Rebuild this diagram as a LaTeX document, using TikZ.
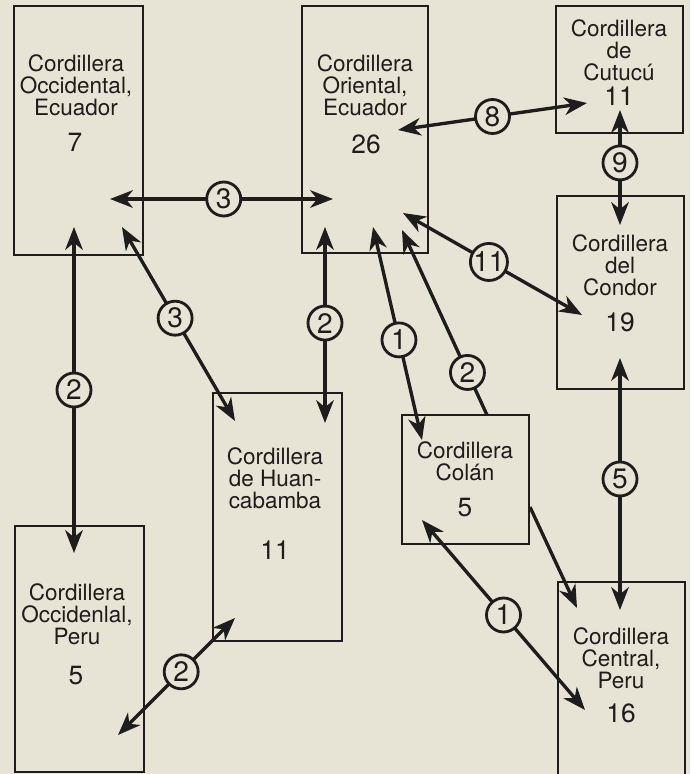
\documentclass[tikz,border=0pt]{standalone}
\usepackage{fontspec}
\setmainfont{TeX Gyre Heros}
\usetikzlibrary{arrows.meta}
\definecolor{paper}{RGB}{232,228,213}
\definecolor{ink}{RGB}{30,28,28}

\begin{document}
\begin{tikzpicture}[x=0.02cm,y=-0.02cm,
  >={Stealth[length=13pt,width=10pt,inset=4pt]},
  rangebox/.style={draw=ink,line width=1.2pt,rectangle,inner sep=0pt},
  rangetext/.style={align=center,text=ink,font=\fontsize{12.8}{12.6}\selectfont},
  rangenum/.style={text=ink,font=\fontsize{15}{17}\selectfont},
  flow/.style={draw=ink,line width=1.9pt},
  tag/.style={circle,draw=ink,fill=paper,line width=1.6pt,minimum size=0.68cm,inner sep=0pt,text=ink,font=\fontsize{16}{18}\selectfont}]
  \fill[paper] (0,0) rectangle (690,774);
  \useasboundingbox (0,0) rectangle (690,774);

  \node[rangebox,minimum width=2.58cm,minimum height=4.98cm] (occE) at (78.5,130.5) {};
  \node[rangebox,minimum width=2.52cm,minimum height=4.94cm] (oriE) at (365,129.5) {};
  \node[rangebox,minimum width=2.54cm,minimum height=2.54cm] (cutu) at (619.5,69.5) {};
  \node[rangebox,minimum width=2.54cm,minimum height=3.86cm] (cond) at (620.5,292.5) {};
  \node[rangebox,minimum width=2.58cm,minimum height=4.96cm] (huan) at (277.5,517) {};
  \node[rangebox,minimum width=2.58cm,minimum height=4.92cm] (occP) at (79.5,649) {};
  \node[rangebox,minimum width=2.54cm,minimum height=2.58cm] (colan) at (465.5,479.5) {};
  \node[rangebox,minimum width=2.54cm,minimum height=4.16cm] (cent) at (621.5,686) {};

  \node[rangetext] (occE-t) at (76,85) {Cordillera\\Occidental,\\Ecuador};
  \node[rangenum] (occE-n) at (75,142.5) {7};
  \node[rangetext] (oriE-t) at (365,85) {Cordillera\\Oriental,\\Ecuador};
  \node[rangenum] (oriE-n) at (366,144) {26};
  \node[rangetext] (cutu-t) at (619,50) {Cordillera\\de\\Cutucú};
  \node[rangenum] (cutu-n) at (619,96) {11};
  \node[rangetext] (cond-t) at (620,265) {Cordillera\\del\\Condor};
  \node[rangenum] (cond-n) at (620,322) {19};
  \node[rangetext] (huan-t) at (275,478) {Cordillera\\de Huan-\\cabamba};
  \node[rangenum] (huan-n) at (275,550) {11};
  \node[rangetext] (occP-t) at (77,614) {Cordillera\\Occidenlal,\\Peru};
  \node[rangenum] (occP-n) at (76,676) {5};
  \node[rangetext] (colan-t) at (465,461) {Cordillera\\Colán};
  \node[rangenum] (colan-n) at (465,508) {5};
  \node[rangetext] (cent-t) at (621,658) {Cordillera\\Central,\\Peru};
  \node[rangenum] (cent-n) at (621,713) {16};

  \coordinate (occE-oriE) at (110,199);
  \coordinate (oriE-occE) at (333,199);
  \coordinate (occE-occP) at (74,227);
  \coordinate (occP-occE) at (74,553);
  \coordinate (occE-huan) at (122,227);
  \coordinate (huan-occE) at (235,421);
  \coordinate (oriE-huan) at (325,227);
  \coordinate (huan-oriE) at (325,423);
  \coordinate (oriE-cutu) at (398,130);
  \coordinate (cutu-oriE) at (587,103);
  \coordinate (cutu-cond) at (620,110);
  \coordinate (cond-cutu) at (620,225);
  \coordinate (oriE-cond) at (403,213);
  \coordinate (cond-oriE) at (582,315);
  \coordinate (oriE-colan) at (373,227);
  \coordinate (colan-oriE) at (422,440);
  \coordinate (colan-top) at (487,415);
  \coordinate (oriE-back) at (402,230);
  \coordinate (colan-side) at (530,507);
  \coordinate (cent-colan) at (577,608);
  \coordinate (cond-cent) at (620,358);
  \coordinate (cent-cond) at (620,610);
  \coordinate (colan-cent) at (422,520);
  \coordinate (cent-low) at (585,710);
  \coordinate (huan-occP) at (235,618);
  \coordinate (occP-huan) at (118,735);

  \draw[flow,<->] (occE-oriE) -- node[tag,pos=.51] {3} (oriE-occE);
  \draw[flow,<->] (occE-occP) -- node[tag] {2} (occP-occE);
  \draw[flow,<->] (occE-huan) -- node[tag,pos=.47] {3} (huan-occE);
  \draw[flow,<->] (oriE-huan) -- node[tag,pos=.49] {2} (huan-oriE);
  \draw[flow,<->] (oriE-cutu) -- node[tag] {8} (cutu-oriE);
  \draw[flow,<->] (cutu-cond) -- node[tag,pos=.46] {9} (cond-cutu);
  \draw[flow,<->] (oriE-cond) -- node[tag,pos=.48] {11} (cond-oriE);
  \draw[flow,<->] (oriE-colan) -- node[tag,pos=.53] {1} (colan-oriE);
  \draw[flow,->] (colan-top) -- node[tag,pos=.23] {2} (oriE-back);
  \draw[flow,->] (colan-side) -- (cent-colan);
  \draw[flow,<->] (cond-cent) -- node[tag,pos=.48] {5} (cent-cond);
  \draw[flow,<->] (colan-cent) -- node[tag] {1} (cent-low);
  \draw[flow,<->] (huan-occP) -- node[tag,pos=.46] {2} (occP-huan);
\end{tikzpicture}
\end{document}
